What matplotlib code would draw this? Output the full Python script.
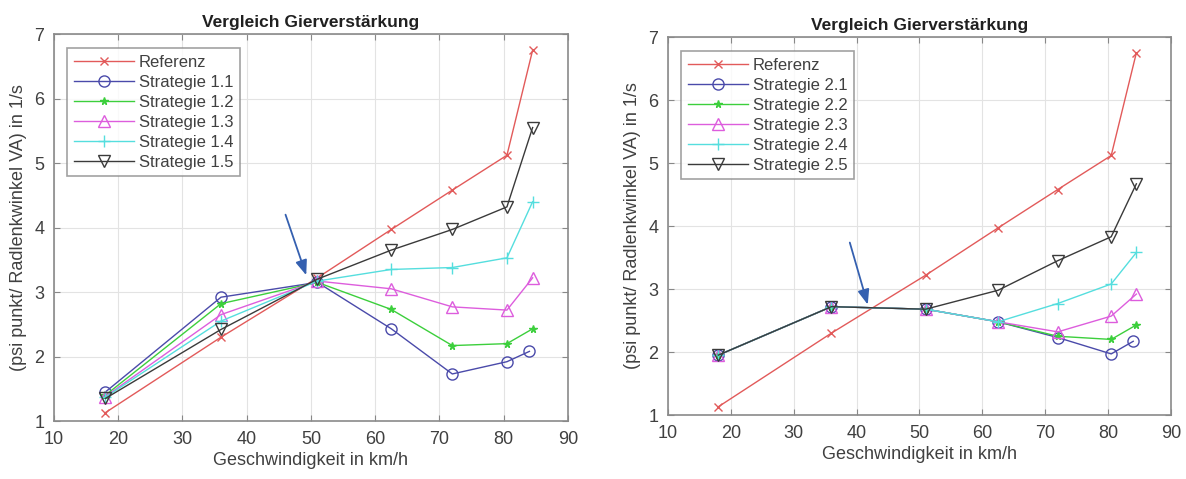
import matplotlib.pyplot as plt

# speeds in km/h
speed = [18, 36, 51, 62.5, 72, 80.5, 84.5]
speed_s11 = [18, 36, 51, 62.5, 72, 80.5, 84]
speed_s21 = [18, 36, 51, 62.5, 72, 80.5, 84]

referenz = [1.13, 2.30, 3.22, 3.97, 4.58, 5.12, 6.75]

# strategy set 1
s11 = [1.45, 2.92, 3.15, 2.43, 1.73, 1.92, 2.08]
s12 = [1.40, 2.82, 3.15, 2.73, 2.17, 2.20, 2.43]
s13 = [1.38, 2.65, 3.17, 3.05, 2.77, 2.72, 3.22]
s14 = [1.37, 2.55, 3.17, 3.35, 3.38, 3.53, 4.40]
s15 = [1.35, 2.42, 3.20, 3.65, 3.97, 4.32, 5.55]

# strategy set 2
s21 = [1.95, 2.72, 2.68, 2.48, 2.23, 1.97, 2.17]
s22 = [1.95, 2.72, 2.68, 2.48, 2.25, 2.20, 2.43]
s23 = [1.95, 2.72, 2.68, 2.48, 2.32, 2.57, 2.92]
s24 = [1.95, 2.72, 2.68, 2.48, 2.77, 3.08, 3.58]
s25 = [1.95, 2.72, 2.68, 2.98, 3.45, 3.83, 4.67]

labels1 = ['Strategie 1.1', 'Strategie 1.2', 'Strategie 1.3', 'Strategie 1.4', 'Strategie 1.5']
labels2 = ['Strategie 2.1', 'Strategie 2.2', 'Strategie 2.3', 'Strategie 2.4', 'Strategie 2.5']

colors = ['#4a4aaa', '#3ccf3c', '#dd5ddd', '#55dede', '#3a3a3a']
markers = ['o', '*', '^', '+', 'v']
msizes = [8, 5.5, 8, 8, 8]
red = '#e25a5a'
txt = '#404040'

plt.rcParams['font.family'] = ['Liberation Sans', 'DejaVu Sans']

fig = plt.figure(figsize=(11.86, 4.79), dpi=100)
ax1 = fig.add_axes([0.0455, 0.121, 0.4334, 0.808])
ax2 = fig.add_axes([0.5632, 0.1336, 0.4241, 0.789])


def setup(ax):
	ax.set_xlim(10, 90)
	ax.set_ylim(1, 7)
	ax.set_xticks(range(10, 91, 10))
	ax.set_yticks(range(1, 8))
	ax.grid(True, color='#e3e3e3', linewidth=0.8)
	ax.set_axisbelow(True)
	ax.tick_params(direction='in', top=True, right=True, length=4, pad=7,
		labelsize=13, colors=txt, color='#888888')
	for s in ax.spines.values():
		s.set_color('#8a8a8a')
		s.set_linewidth(1.2)
	ax.set_title('Vergleich Gierverstärkung', fontsize=12.5, fontweight='bold',
		color='#202020', pad=5)
	ax.set_xlabel('Geschwindigkeit in km/h', fontsize=13, color=txt, labelpad=3)
	ax.set_ylabel('(psi punkt/ Radlenkwinkel VA) in 1/s', fontsize=13, color=txt, labelpad=5)


def draw(ax, series, labels, xs_first):
	ax.plot(speed, referenz, color=red, marker='x', markersize=6, linewidth=1,
		label='Referenz')
	for i, (ys, lab) in enumerate(zip(series, labels)):
		xs = xs_first if i == 0 else speed
		fill = colors[i] if markers[i] == '*' else 'none'
		ax.plot(xs, ys, color=colors[i], marker=markers[i], markersize=msizes[i],
			markerfacecolor=fill, linewidth=1, label=lab)
	leg = ax.legend(loc='upper left', fontsize=12, frameon=True, fancybox=False,
		borderpad=0.4, labelspacing=0.3, handlelength=3.6, handletextpad=0.3,
		bbox_to_anchor=(0.01, 0.985))
	leg.get_frame().set_edgecolor('#8a8a8a')
	leg.get_frame().set_linewidth(1.2)
	for t in leg.get_texts():
		t.set_color(txt)


setup(ax1)
draw(ax1, [s11, s12, s13, s14, s15], labels1, speed_s11)
ax1.annotate('', xy=(49.4, 3.22), xytext=(45.9, 4.24),
	arrowprops=dict(arrowstyle='-|>,head_length=0.9,head_width=0.35',
		color='#3560b0', linewidth=1.3))

setup(ax2)
draw(ax2, [s21, s22, s23, s24, s25], labels2, speed_s21)
ax2.annotate('', xy=(41.9, 2.71), xytext=(38.8, 3.78),
	arrowprops=dict(arrowstyle='-|>,head_length=0.9,head_width=0.35',
		color='#3560b0', linewidth=1.3))

fig.savefig('out.png', dpi=100)
